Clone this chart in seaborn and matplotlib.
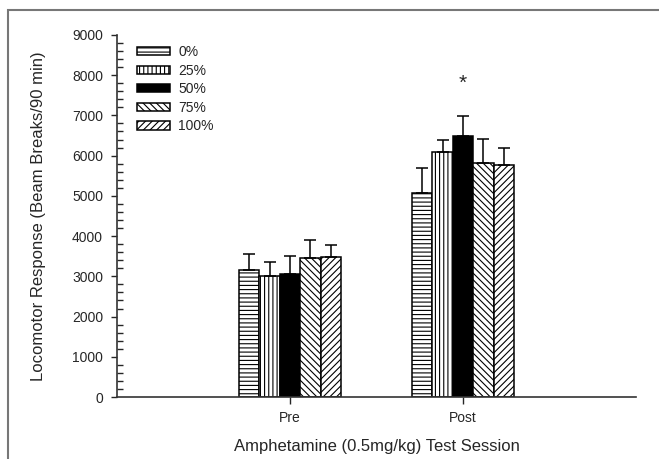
import pandas as pd
import numpy as np
import matplotlib
matplotlib.use("Agg")
import matplotlib.pyplot as plt
from matplotlib.patches import Rectangle
import seaborn as sns

sessions = ["Pre", "Post"]
doses = ["0%", "25%", "50%", "75%", "100%"]
pre_mean = [3150, 3000, 3070, 3450, 3480]
pre_sem = [400, 360, 430, 450, 300]
post_mean = [5070, 6080, 6480, 5820, 5760]
post_sem = [630, 320, 510, 600, 440]
star_y = 7800

sns.set_style("white")
plt.rcParams['font.family'] = ['Liberation Sans', 'DejaVu Sans']
plt.rcParams['hatch.linewidth'] = 0.8

data = pd.DataFrame({
    "session": ["Pre"] * 5 + ["Post"] * 5,
    "dose": doses * 2,
    "value": pre_mean + post_mean,
    "sem": pre_sem + post_sem,
})

fig = plt.figure(figsize=(6.59, 4.59), dpi=100)
ax = fig.add_axes([0.1775, 0.135, 0.7875, 0.789])

pal = {"0%": "white", "25%": "white", "50%": "black", "75%": "white", "100%": "white"}
sns.barplot(data=data, x="session", y="value", hue="dose", order=sessions, hue_order=doses,
            palette=pal, saturation=1, width=0.59, edgecolor="black", linewidth=1.1,
            errorbar=None, legend=False, ax=ax)

bar_conts = list(ax.containers)
hatches = ["----", "||||", "", "\\\\\\\\\\", "/////"]
for cont, h, d in zip(bar_conts, hatches, doses):
    errs = data[data.dose == d].set_index("session").loc[sessions]
    xs = []
    for bar in cont.patches:
        bar.set_hatch(h)
        xs.append(bar.get_x() + bar.get_width() / 2)
    ax.errorbar(xs, errs["value"], yerr=[np.zeros(2), errs["sem"]], fmt="none",
                ecolor="black", elinewidth=1.1, capsize=4, capthick=1.1)

ax.text(1, star_y, "*", ha="center", va="center", fontsize=15)

handles = [cont.patches[0] for cont in bar_conts]
ax.legend(handles, doses, loc="upper left", bbox_to_anchor=(0.038, 0.972), frameon=False,
          fontsize=10, handlelength=2.4, handleheight=0.55, labelspacing=0.33,
          borderpad=0, borderaxespad=0, handletextpad=0.6)

ax.set_xlim(-1, 2)
ax.set_ylim(0, 9000)
ax.set_yticks(range(0, 9001, 1000))
ax.set_yticks(range(0, 9001, 200), minor=True)
ax.tick_params(axis="y", which="major", direction="out", length=4, width=1, labelsize=10, pad=6, left=True)
ax.tick_params(axis="y", which="minor", direction="in", length=4, width=1, left=True)
ax.tick_params(axis="x", direction="out", length=5, width=1, labelsize=10, pad=5, bottom=True)
sns.despine(ax=ax)
for s in ["left", "bottom"]:
    ax.spines[s].set_color("#333333")
    ax.spines[s].set_linewidth(1.2)

ax.set_xlabel("Amphetamine (0.5mg/kg) Test Session", fontsize=12, labelpad=10)
ax.set_ylabel("Locomotor Response (Beam Breaks/90 min)", fontsize=12, labelpad=19)

fig.patches.append(Rectangle((8 / 659, -0.1), 1.2, 1 - 10 / 459 + 0.1, transform=fig.transFigure,
                             fill=False, edgecolor="#777777", linewidth=1.5, clip_on=False))

fig.savefig("out.png", dpi=100)
